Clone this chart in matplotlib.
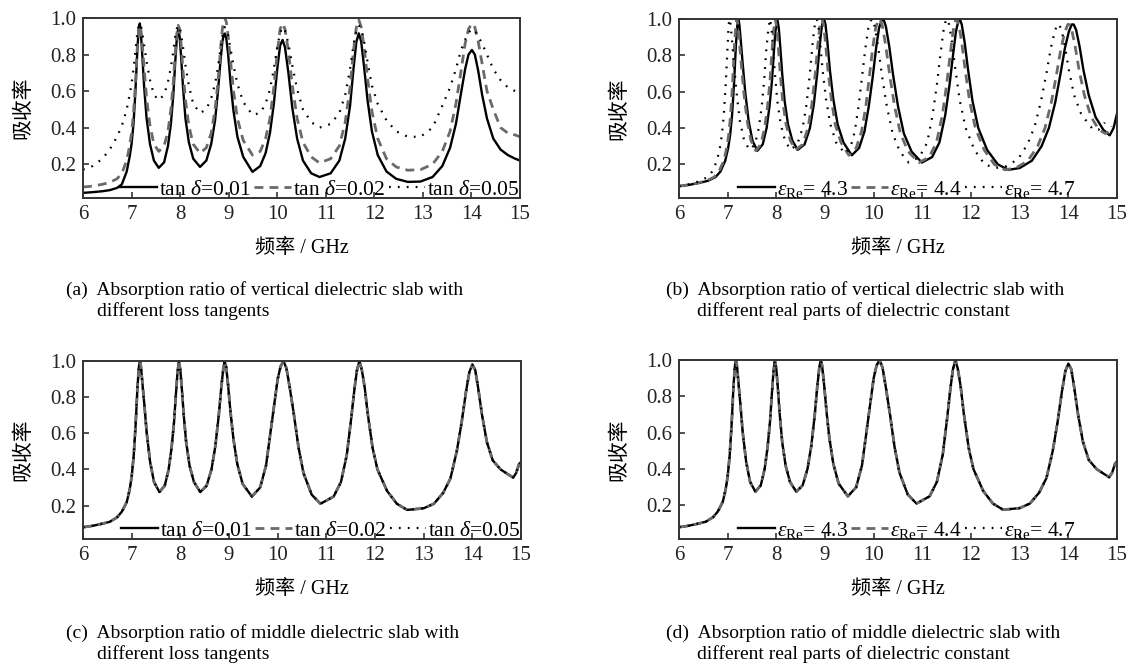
import matplotlib
matplotlib.use("Agg")
import matplotlib.pyplot as plt

plt.rcParams["font.family"] = ["Liberation Serif", "Noto Sans CJK SC"]
plt.rcParams["mathtext.fontset"] = "custom"
plt.rcParams["mathtext.rm"] = "Liberation Serif"
plt.rcParams["mathtext.it"] = "Liberation Serif:italic"

# ---- data (frequency in GHz, absorption ratio) ----
# (a) vertical slab, different loss tangents (shared frequency grid)
a_freq = [6.0, 6.2, 6.4, 6.55, 6.7, 6.8, 6.9, 6.96, 7.0, 7.04, 7.08, 7.12, 7.15, 7.17, 7.19,
          7.22, 7.26, 7.31, 7.38, 7.46, 7.56, 7.67, 7.75, 7.81, 7.86, 7.9, 7.93, 7.96, 7.99, 8.02,
          8.06, 8.11, 8.18, 8.27, 8.41, 8.54, 8.64, 8.72, 8.78, 8.83, 8.87, 8.9, 8.92, 8.95, 8.99,
          9.04, 9.1, 9.18, 9.3, 9.49, 9.65, 9.76, 9.85, 9.93, 10.0, 10.06, 10.11, 10.16, 10.23, 10.31,
          10.41, 10.53, 10.7, 10.87, 11.1, 11.28, 11.4, 11.5, 11.57, 11.63, 11.68, 11.73, 11.79, 11.86, 11.95,
          12.07, 12.25, 12.45, 12.69, 12.95, 13.2, 13.4, 13.56, 13.68, 13.78, 13.87, 13.94, 14.01, 14.07, 14.14,
          14.22, 14.32, 14.45, 14.6, 14.75, 14.9, 15.0]
a_tan001 = [0.043, 0.047, 0.052, 0.058, 0.07, 0.09, 0.16, 0.24, 0.31, 0.42, 0.60, 0.83, 0.95, 0.97, 0.93,
            0.80, 0.62, 0.45, 0.31, 0.22, 0.18, 0.21, 0.30, 0.42, 0.58, 0.76, 0.88, 0.94, 0.90, 0.79,
            0.62, 0.45, 0.32, 0.23, 0.185, 0.22, 0.31, 0.44, 0.60, 0.76, 0.87, 0.91, 0.915, 0.89, 0.80,
            0.64, 0.49, 0.35, 0.24, 0.158, 0.19, 0.26, 0.37, 0.53, 0.72, 0.85, 0.88, 0.84, 0.70, 0.51,
            0.34, 0.22, 0.15, 0.13, 0.15, 0.22, 0.34, 0.52, 0.72, 0.87, 0.916, 0.87, 0.73, 0.55, 0.38,
            0.25, 0.16, 0.12, 0.103, 0.105, 0.13, 0.19, 0.29, 0.42, 0.58, 0.72, 0.80, 0.825, 0.80, 0.71,
            0.58, 0.45, 0.34, 0.28, 0.25, 0.23, 0.22]
a_tan002 = [0.075, 0.08, 0.09, 0.10, 0.12, 0.15, 0.22, 0.30, 0.37, 0.48, 0.64, 0.85, 0.94, 0.96, 0.94,
            0.86, 0.72, 0.56, 0.41, 0.31, 0.27, 0.30, 0.38, 0.50, 0.65, 0.81, 0.91, 0.96, 0.94, 0.86,
            0.71, 0.55, 0.41, 0.31, 0.26, 0.29, 0.37, 0.50, 0.65, 0.82, 0.94, 0.99, 1.0, 0.98, 0.90,
            0.76, 0.60, 0.45, 0.33, 0.25, 0.27, 0.34, 0.45, 0.62, 0.81, 0.94, 0.97, 0.94, 0.82, 0.63,
            0.45, 0.32, 0.24, 0.207, 0.23, 0.30, 0.43, 0.62, 0.82, 0.95, 0.99, 0.95, 0.84, 0.67, 0.49,
            0.34, 0.23, 0.185, 0.167, 0.17, 0.2, 0.27, 0.38, 0.53, 0.70, 0.86, 0.94, 0.97, 0.95, 0.87,
            0.75, 0.60, 0.50, 0.40, 0.37, 0.36, 0.35]
a_tan005 = [0.17, 0.19, 0.23, 0.28, 0.35, 0.41, 0.50, 0.58, 0.64, 0.72, 0.82, 0.92, 0.96, 0.97, 0.96,
            0.92, 0.85, 0.76, 0.66, 0.58, 0.55, 0.58, 0.65, 0.73, 0.82, 0.90, 0.94, 0.96, 0.95, 0.91,
            0.84, 0.74, 0.63, 0.53, 0.48, 0.50, 0.56, 0.64, 0.73, 0.83, 0.90, 0.94, 0.95, 0.94, 0.90,
            0.83, 0.74, 0.64, 0.54, 0.47, 0.48, 0.53, 0.61, 0.72, 0.84, 0.92, 0.95, 0.93, 0.86, 0.74,
            0.61, 0.50, 0.43, 0.40, 0.42, 0.48, 0.58, 0.72, 0.85, 0.93, 0.96, 0.94, 0.87, 0.76, 0.63,
            0.53, 0.44, 0.38, 0.35, 0.35, 0.40, 0.52, 0.62, 0.72, 0.82, 0.88, 0.92, 0.94, 0.93, 0.90,
            0.86, 0.80, 0.72, 0.66, 0.62, 0.60, 0.59]

# (b) vertical slab, different real parts of permittivity
b_freq_43 = [6.0, 6.2, 6.4, 6.6, 6.75, 6.85, 6.95, 7.01, 7.05, 7.09, 7.13, 7.17, 7.2, 7.22, 7.24,
             7.27, 7.31, 7.36, 7.43, 7.51, 7.61, 7.72, 7.8, 7.86, 7.91, 7.95, 7.98, 8.02, 8.05, 8.08,
             8.12, 8.17, 8.24, 8.33, 8.44, 8.58, 8.69, 8.77, 8.84, 8.89, 8.93, 8.96, 8.98, 9.01, 9.05,
             9.1, 9.17, 9.26, 9.38, 9.55, 9.7, 9.81, 9.9, 9.98, 10.05, 10.11, 10.16, 10.2, 10.25, 10.32,
             10.4, 10.5, 10.62, 10.78, 10.99, 11.2, 11.35, 11.47, 11.56, 11.63, 11.69, 11.74, 11.77, 11.81, 11.87,
             11.94, 12.03, 12.15, 12.33, 12.55, 12.77, 13.0, 13.25, 13.45, 13.6, 13.73, 13.84, 13.93, 14.01, 14.07,
             14.11, 14.16, 14.23, 14.31, 14.42, 14.56, 14.72, 14.85, 14.93, 15.0]
b_eps43 = [0.08, 0.087, 0.097, 0.11, 0.13, 0.16, 0.22, 0.29, 0.36, 0.47, 0.64, 0.86, 0.97, 1.0, 0.97,
           0.88, 0.75, 0.60, 0.44, 0.33, 0.275, 0.31, 0.40, 0.52, 0.66, 0.82, 0.93, 1.0, 0.95, 0.85,
           0.70, 0.55, 0.42, 0.33, 0.28, 0.31, 0.40, 0.53, 0.70, 0.85, 0.95, 0.99, 1.0, 0.97, 0.87,
           0.72, 0.56, 0.42, 0.32, 0.25, 0.29, 0.38, 0.52, 0.68, 0.84, 0.95, 0.99, 1.0, 0.96, 0.85,
           0.69, 0.52, 0.37, 0.27, 0.21, 0.24, 0.32, 0.47, 0.64, 0.80, 0.93, 0.99, 1.0, 0.97, 0.87,
           0.72, 0.55, 0.40, 0.28, 0.20, 0.17, 0.18, 0.22, 0.30, 0.40, 0.54, 0.70, 0.84, 0.93, 0.97,
           0.97, 0.94, 0.85, 0.72, 0.58, 0.46, 0.39, 0.36, 0.40, 0.48]
b_freq_44 = [6.0, 6.18, 6.37, 6.57, 6.72, 6.82, 6.92, 6.98, 7.02, 7.06, 7.10, 7.14, 7.17, 7.19, 7.21,
             7.24, 7.28, 7.33, 7.40, 7.48, 7.58, 7.68, 7.76, 7.82, 7.87, 7.91, 7.94, 7.98, 8.01, 8.04,
             8.08, 8.13, 8.20, 8.29, 8.40, 8.54, 8.65, 8.73, 8.80, 8.85, 8.89, 8.92, 8.94, 8.97, 9.01,
             9.06, 9.13, 9.21, 9.33, 9.49, 9.64, 9.75, 9.84, 9.91, 9.98, 10.04, 10.09, 10.13, 10.18, 10.25,
             10.33, 10.43, 10.55, 10.71, 10.93, 11.14, 11.29, 11.41, 11.5, 11.57, 11.63, 11.68, 11.71, 11.75, 11.81,
             11.88, 11.97, 12.09, 12.27, 12.48, 12.7, 12.92, 13.17, 13.37, 13.52, 13.65, 13.76, 13.85, 13.93, 13.99,
             14.02, 14.07, 14.14, 14.22, 14.33, 14.47, 14.63, 14.76, 14.84, 14.9]
b_eps44 = [0.08, 0.087, 0.097, 0.11, 0.13, 0.16, 0.22, 0.29, 0.36, 0.47, 0.64, 0.86, 0.97, 1.0, 0.97,
           0.88, 0.75, 0.60, 0.44, 0.33, 0.275, 0.31, 0.40, 0.52, 0.66, 0.82, 0.93, 1.0, 0.95, 0.85,
           0.70, 0.55, 0.42, 0.33, 0.28, 0.31, 0.40, 0.53, 0.70, 0.85, 0.95, 0.99, 1.0, 0.97, 0.87,
           0.72, 0.56, 0.42, 0.32, 0.25, 0.29, 0.38, 0.52, 0.68, 0.84, 0.95, 0.99, 1.0, 0.96, 0.85,
           0.69, 0.52, 0.37, 0.27, 0.21, 0.24, 0.32, 0.47, 0.64, 0.80, 0.93, 0.99, 1.0, 0.97, 0.87,
           0.72, 0.55, 0.40, 0.28, 0.20, 0.17, 0.18, 0.22, 0.30, 0.40, 0.54, 0.70, 0.84, 0.93, 0.97,
           0.97, 0.94, 0.85, 0.72, 0.58, 0.46, 0.39, 0.37, 0.38, 0.41]
b_freq_47 = [6.0, 6.15, 6.3, 6.45, 6.58, 6.68, 6.78, 6.84, 6.88, 6.92, 6.96, 7.0, 7.02, 7.04, 7.06,
             7.09, 7.13, 7.18, 7.25, 7.34, 7.45, 7.56, 7.64, 7.7, 7.75, 7.79, 7.83, 7.87, 7.9, 7.93,
             7.97, 8.02, 8.09, 8.18, 8.29, 8.43, 8.54, 8.62, 8.69, 8.74, 8.78, 8.81, 8.83, 8.86, 8.9,
             8.95, 9.02, 9.11, 9.23, 9.41, 9.52, 9.61, 9.69, 9.76, 9.83, 9.89, 9.94, 9.97, 10.02, 10.09,
             10.17, 10.27, 10.39, 10.54, 10.72, 10.94, 11.1, 11.21, 11.3, 11.37, 11.43, 11.48, 11.51, 11.55, 11.61,
             11.68, 11.77, 11.89, 12.07, 12.28, 12.5, 12.73, 12.97, 13.16, 13.31, 13.44, 13.55, 13.64, 13.72, 13.77,
             13.81, 13.86, 13.93, 14.01, 14.12, 14.26, 14.42, 14.52, 14.62, 14.75]
b_eps47 = [0.08, 0.087, 0.097, 0.11, 0.13, 0.16, 0.22, 0.29, 0.36, 0.47, 0.64, 0.86, 0.97, 1.0, 0.97,
           0.88, 0.75, 0.60, 0.44, 0.33, 0.28, 0.31, 0.40, 0.52, 0.66, 0.82, 0.93, 1.0, 0.95, 0.85,
           0.70, 0.55, 0.42, 0.33, 0.28, 0.31, 0.40, 0.53, 0.70, 0.85, 0.95, 0.99, 1.0, 0.97, 0.87,
           0.72, 0.56, 0.42, 0.32, 0.26, 0.29, 0.38, 0.52, 0.68, 0.84, 0.95, 0.99, 1.0, 0.96, 0.85,
           0.69, 0.52, 0.37, 0.27, 0.21, 0.24, 0.32, 0.47, 0.64, 0.80, 0.93, 0.99, 1.0, 0.97, 0.87,
           0.72, 0.55, 0.40, 0.28, 0.20, 0.18, 0.19, 0.23, 0.31, 0.41, 0.55, 0.70, 0.84, 0.93, 0.97,
           0.97, 0.94, 0.85, 0.72, 0.58, 0.48, 0.42, 0.39, 0.39, 0.43]

# (c), (d) middle slab: the three curves lie on top of each other
m_freq = [6.0, 6.2, 6.4, 6.55, 6.7, 6.8, 6.9, 6.96, 7.0, 7.04, 7.08, 7.12, 7.15, 7.17, 7.19,
          7.22, 7.26, 7.31, 7.38, 7.46, 7.57, 7.68, 7.76, 7.82, 7.87, 7.91, 7.94, 7.97, 8.0, 8.03,
          8.07, 8.12, 8.19, 8.28, 8.41, 8.54, 8.64, 8.72, 8.79, 8.84, 8.88, 8.91, 8.94, 8.98, 9.03,
          9.09, 9.17, 9.28, 9.47, 9.64, 9.76, 9.85, 9.93, 10.0, 10.06, 10.12, 10.18, 10.25, 10.33, 10.43,
          10.53, 10.7, 10.88, 11.15, 11.3, 11.42, 11.51, 11.58, 11.63, 11.68, 11.73, 11.79, 11.85, 11.95, 12.05,
          12.25, 12.45, 12.66, 13.0, 13.21, 13.4, 13.55, 13.68, 13.78, 13.87, 13.94, 14.0, 14.06, 14.12, 14.2,
          14.3, 14.42, 14.58, 14.75, 14.84, 14.9, 14.96, 15.0]
m_absorb = [0.08, 0.088, 0.10, 0.11, 0.135, 0.167, 0.22, 0.29, 0.36, 0.47, 0.64, 0.86, 0.97, 1.0, 0.97,
            0.88, 0.76, 0.60, 0.44, 0.33, 0.275, 0.31, 0.40, 0.52, 0.66, 0.82, 0.93, 1.0, 0.95, 0.85,
            0.70, 0.55, 0.42, 0.33, 0.275, 0.31, 0.40, 0.53, 0.70, 0.85, 0.95, 1.0, 0.97, 0.87, 0.72,
            0.57, 0.43, 0.32, 0.25, 0.30, 0.42, 0.60, 0.76, 0.90, 0.97, 1.0, 0.96, 0.85, 0.71, 0.52,
            0.38, 0.26, 0.21, 0.25, 0.33, 0.48, 0.68, 0.85, 0.95, 1.0, 0.95, 0.85, 0.71, 0.52, 0.40,
            0.28, 0.21, 0.176, 0.185, 0.21, 0.27, 0.35, 0.50, 0.66, 0.83, 0.94, 0.98, 0.95, 0.85, 0.70,
            0.55, 0.45, 0.40, 0.37, 0.355, 0.38, 0.43, 0.44]

tan_labels = [r"tan $\delta$=0.01", r"tan $\delta$=0.02", r"tan $\delta$=0.05"]
eps_labels = [r"$\varepsilon_{\mathrm{Re}}$= 4.3", r"$\varepsilon_{\mathrm{Re}}$= 4.4",
              r"$\varepsilon_{\mathrm{Re}}$= 4.7"]
captions = [
    ("(a)  Absorption ratio of vertical dielectric slab with", "different loss tangents"),
    ("(b)  Absorption ratio of vertical dielectric slab with", "different real parts of dielectric constant"),
    ("(c)  Absorption ratio of middle dielectric slab with", "different loss tangents"),
    ("(d)  Absorption ratio of middle dielectric slab with", "different real parts of dielectric constant"),
]

W, H = 1128, 666
solid = dict(color="black", lw=1.7, ls="-")
dashed = dict(color="#6a6a6a", lw=2.0, ls=(0, (3.2, 2.2)))
dotted = dict(color="black", lw=1.6, ls=(0, (0.8, 3.2)))

fig = plt.figure(figsize=(W / 100, H / 100), dpi=100)


def make_axes(left, top, right, bottom):
    ax = fig.add_axes([left / W, 1 - bottom / H, (right - left) / W, (bottom - top) / H])
    ax.set_xlim(6, 15)
    ax.set_ylim(0.015, 1.0)
    ax.set_xticks(range(6, 16))
    ax.set_yticks([0.2, 0.4, 0.6, 0.8, 1.0])
    ax.set_yticklabels(["0.2", "0.4", "0.6", "0.8", "1.0"])
    ax.tick_params(direction="in", length=4, width=1.1, labelsize=15, pad=5,
                   top=False, right=False, colors="#222222")
    for s in ax.spines.values():
        s.set_linewidth(1.4)
        s.set_color("#333333")
    ax.set_xlabel("频率 / GHz", fontsize=14.5, labelpad=11)
    ax.set_ylabel("吸收率", fontsize=15, labelpad=12)
    return ax


ax_a = make_axes(83, 18, 520, 198)
ax_b = make_axes(679, 19, 1117, 198)
ax_c = make_axes(83, 361, 521, 539)
ax_d = make_axes(679, 360, 1117, 539)

ax_a.plot(a_freq, a_tan001, label=tan_labels[0], **solid)
ax_a.plot(a_freq, a_tan002, label=tan_labels[1], **dashed)
ax_a.plot(a_freq, a_tan005, label=tan_labels[2], **dotted)

ax_b.plot(b_freq_43, b_eps43, label=eps_labels[0], **solid)
ax_b.plot(b_freq_44, b_eps44, label=eps_labels[1], **dashed)
ax_b.plot(b_freq_47, b_eps47, label=eps_labels[2], **dotted)

for ax, labels in [(ax_c, tan_labels), (ax_d, eps_labels)]:
    ax.plot(m_freq, m_absorb, label=labels[0], **solid)
    ax.plot(m_freq, m_absorb, label=labels[1], **dashed)
    ax.plot(m_freq, m_absorb, label=labels[2], **dotted)

leg_kw = dict(ncol=3, frameon=False, fontsize=15.5, handlelength=1.7, handletextpad=0.1,
              columnspacing=0.15, borderaxespad=0, borderpad=0)
ax_a.legend(loc="lower right", bbox_to_anchor=(1.0, -0.01), **leg_kw)
ax_c.legend(loc="lower right", bbox_to_anchor=(1.0, -0.01), **leg_kw)
ax_b.legend(loc="lower center", bbox_to_anchor=(0.52, -0.01), **leg_kw)
ax_d.legend(loc="lower center", bbox_to_anchor=(0.52, -0.01), **leg_kw)

cap_pos = [(66, 290), (666, 290), (66, 633), (666, 633)]
for (line1, line2), (cx, cy) in zip(captions, cap_pos):
    fig.text(cx / W, 1 - cy / H, line1, fontsize=14, va="center", ha="left")
    fig.text((cx + 31) / W, 1 - (cy + 21) / H, line2, fontsize=14, va="center", ha="left")

fig.savefig("out.png", dpi=100)
